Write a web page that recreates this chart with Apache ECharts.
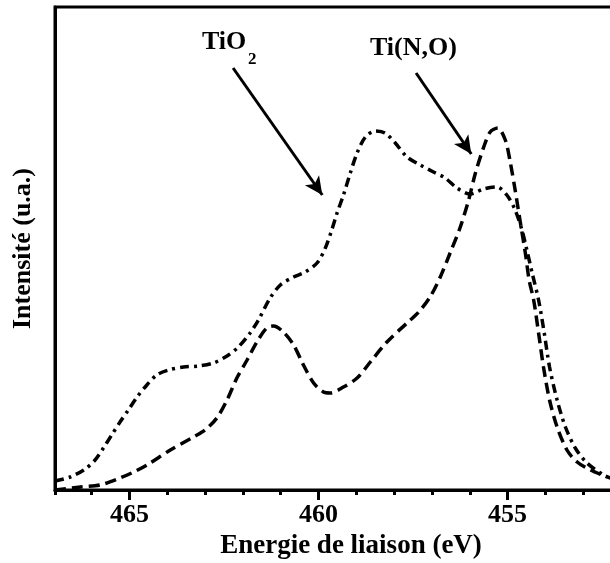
<!DOCTYPE html>
<html>
<head>
<meta charset="utf-8">
<script src="https://cdn.jsdelivr.net/npm/echarts@6/dist/echarts.min.js"></script>
<style>
  html, body { margin: 0; padding: 0; background: #fff; }
  #chart { width: 610px; height: 563px; }
</style>
</head>
<body>
<div id="chart"></div>
<script>
// binding energy (eV) and intensity (arb. units)
var energyTiO2 = [466.97, 466.57, 466.17, 465.91, 465.69, 465.47, 465.25, 465.03, 464.80, 464.54,
  464.28, 463.97, 463.57, 463.17, 462.78, 462.42, 462.12, 461.81, 461.59, 461.28,
  461.01, 460.66, 460.35, 460.04, 459.82, 459.65, 459.51, 459.34, 459.16, 458.98,
  458.76, 458.50, 458.24, 457.97, 457.66, 457.31, 456.96, 456.65, 456.34, 455.99,
  455.63, 455.28, 455.02, 454.80, 454.62, 454.49, 454.35, 454.18, 454.03, 453.89,
  453.69, 453.47, 453.21, 452.90, 452.46, 452.28];
var intensityTiO2 = [9, 13, 21, 30, 42, 55, 68, 80, 93, 105,
  115, 120, 123, 124, 127, 134, 143, 157, 170, 192,
  205, 213, 218, 227, 242, 260, 277, 295, 317, 337,
  353, 359, 357, 347, 333, 325, 318, 312, 302, 296,
  301, 303, 295, 280, 260, 240, 217, 190, 157, 123,
  90, 63, 42, 27, 15, 12];

var energyTiNO = [466.97, 466.30, 465.78, 465.25, 464.89, 464.54, 463.92, 463.31, 463.00, 462.69,
  462.42, 462.16, 461.89, 461.63, 461.37, 461.19, 460.93, 460.66, 460.40, 460.13,
  459.87, 459.69, 459.34, 458.98, 458.63, 458.19, 457.66, 457.35, 457.05, 456.78,
  456.52, 456.25, 456.03, 455.85, 455.63, 455.46, 455.26, 455.06, 454.93, 454.80,
  454.66, 454.53, 454.43, 454.31, 454.18, 454.05, 453.89, 453.69, 453.43, 453.16,
  452.81, 452.37];
var intensityTiNO = [0, 3, 5, 12, 18, 25, 40, 53, 60, 72,
  90, 112, 130, 148, 162, 164, 158, 145, 125, 107,
  98, 97, 103, 112, 128, 148, 167, 178, 193, 213,
  237, 263, 290, 317, 343, 358, 362, 350, 328, 300,
  267, 237, 210, 190, 157, 123, 90, 63, 40, 28,
  20, 13];

var majorTicks = [455, 460, 465];

function pairs(xs, ys) {
  return xs.map(function (x, i) { return [x, ys[i]]; });
}

var font = '"Liberation Serif", "Times New Roman", serif';

var chart = echarts.init(document.getElementById('chart'));
chart.setOption({
  animation: false,
  // plot runs past the right edge of the picture, as in the source figure
  grid: {
    left: 55, top: 7, width: 566, bottom: 73,
    outerBoundsMode: 'none', containLabel: false,
    show: true, borderColor: '#000', borderWidth: 3
  },
  xAxis: [{
    type: 'value', inverse: true, min: 452, max: 466.97, interval: 1,
    position: 'bottom',
    name: 'Energie de liaison (eV)', nameLocation: 'middle', nameGap: 43,
    nameTextStyle: { fontFamily: font, fontWeight: 'bold', fontSize: 27, color: '#000', padding: [0, 0, 0, 26] },
    axisLine: { lineStyle: { color: '#000', width: 3 } },
    axisTick: { length: 5, lineStyle: { color: '#000', width: 3 } },
    axisLabel: {
      margin: 12, fontFamily: font, fontWeight: 'bold', fontSize: 26, color: '#000',
      formatter: function (v) { return majorTicks.indexOf(v) >= 0 ? String(v) : ''; }
    },
    splitLine: { show: false }
  }, {
    type: 'value', inverse: true, min: 452, max: 466.97,
    position: 'bottom',
    axisLine: { show: false },
    axisTick: { length: 10, customValues: majorTicks, lineStyle: { color: '#000', width: 3 } },
    axisLabel: { show: false },
    splitLine: { show: false }
  }],
  yAxis: {
    type: 'value', min: 0, max: 483,
    name: 'Intensité (u.a.)', nameLocation: 'middle', nameGap: 19,
    nameTextStyle: { fontFamily: font, fontWeight: 'bold', fontSize: 26, color: '#000' },
    axisLine: { show: true, lineStyle: { color: '#000', width: 3 } },
    axisTick: { show: false },
    axisLabel: { show: false },
    splitLine: { show: false }
  },
  series: [{
    name: 'TiO2', type: 'line', xAxisIndex: 0,
    data: pairs(energyTiO2, intensityTiO2),
    smooth: 0.3, symbol: 'none',
    lineStyle: { color: '#000', width: 3.5, type: [9, 5, 3, 5] },
    markLine: {
      silent: true, symbol: ['none', 'arrow'], symbolSize: [13, 18],
      label: { show: false },
      lineStyle: { color: '#000', width: 3, type: 'solid' },
      data: [
        [{ coord: [462.26, 422] }, { coord: [459.90, 295] }],
        [{ coord: [457.42, 417] }, { coord: [455.96, 336] }]
      ]
    }
  }, {
    name: 'Ti(N,O)', type: 'line', xAxisIndex: 0,
    data: pairs(energyTiNO, intensityTiNO),
    smooth: 0.3, symbol: 'none',
    lineStyle: { color: '#000', width: 3.5, type: [11, 6] }
  }],
  graphic: [
    { type: 'text', left: 202, top: 29, style: { text: 'TiO', font: 'bold 26px ' + font, fill: '#000' } },
    { type: 'text', left: 248, top: 51, style: { text: '2', font: 'bold 17px ' + font, fill: '#000' } },
    { type: 'text', left: 370, top: 35, style: { text: 'Ti(N,O)', font: 'bold 26px ' + font, fill: '#000' } }
  ]
});
</script>
</body>
</html>
